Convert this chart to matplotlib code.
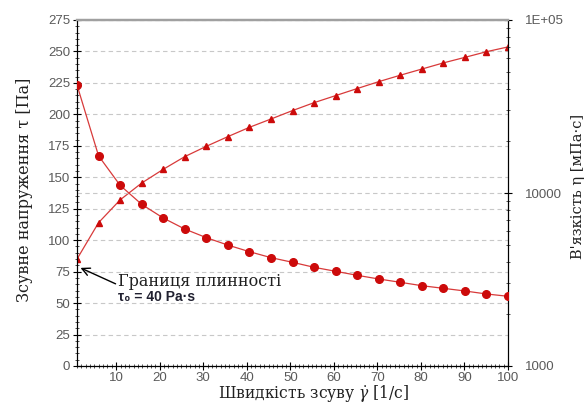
import numpy as np
import matplotlib
matplotlib.use("Agg")
import matplotlib.pyplot as plt
from matplotlib.ticker import MultipleLocator, FixedLocator, FuncFormatter, LogLocator, NullFormatter

# shear rate, 1/s
shear_rate = [1, 5.95, 10.9, 15.85, 20.8, 25.75, 30.7, 35.65, 40.6, 45.55, 50.5,
              55.45, 60.4, 65.35, 70.3, 75.25, 80.2, 85.15, 90.1, 95.05, 100]
# shear stress, Pa (triangles, left axis)
stress = [85, 113.9, 132, 145.4, 156.3, 166.4, 174.6, 182.3, 189.7, 196.3, 203,
          209.3, 214.9, 220.5, 226, 231.1, 236, 240.9, 245.3, 249.8, 253.6]
# viscosity, mPa*s (circles, right log axis)
viscosity = [42100, 16400, 11080, 8600, 7170, 6190, 5520, 5000, 4580, 4230, 3976,
             3720, 3527, 3344, 3184, 3047, 2912, 2812, 2714, 2608, 2529]

x_ticks = [10, 20, 30, 40, 50, 60, 70, 80, 90, 100]
left_ticks = list(range(0, 276, 25))
right_labels = {1000: "1000", 10000: "10000", 100000: "1E+05"}

RED = "#cc0a0a"
LINE = "#d83a3a"
TICK_GRAY = "#5a5a5a"
SERIF = "DejaVu Serif"
SANS = "Liberation Sans"
plt.rcParams["mathtext.fontset"] = "dejavuserif"

fig = plt.figure(figsize=(5.87, 4.05), dpi=100)
ax = fig.add_axes([77 / 587, 39 / 405, 431 / 587, 346 / 405])
ax2 = ax.twinx()

ax.plot(shear_rate, stress, color=LINE, lw=0.9, marker="^", ms=4.5,
        mfc=RED, mec=RED, zorder=3)
ax2.plot(shear_rate, viscosity, color=LINE, lw=0.9, marker="o", ms=5.5,
         mfc=RED, mec=RED, zorder=3)

ax.set_xlim(1, 100)
ax.set_ylim(0, 275)
ax2.set_yscale("log")
ax2.set_ylim(1000, 100000)

ax.xaxis.set_major_locator(FixedLocator(x_ticks))
ax.xaxis.set_minor_locator(MultipleLocator(1))
ax.yaxis.set_major_locator(FixedLocator(left_ticks))
ax.yaxis.set_minor_locator(MultipleLocator(5))
ax2.yaxis.set_major_locator(FixedLocator(list(right_labels)))
ax2.yaxis.set_major_formatter(FuncFormatter(lambda v, p: right_labels.get(int(round(v)), "")))
ax2.yaxis.set_minor_locator(LogLocator(base=10, subs=np.arange(2, 10)))
ax2.yaxis.set_minor_formatter(NullFormatter())

ax.grid(axis="y", which="major", color="#c8c8c8", ls=(0, (4, 3)), lw=0.8)
ax2.grid(axis="y", which="major", color="#c8c8c8", ls=(0, (4, 3)), lw=0.8)
ax.set_axisbelow(True)

for a in (ax, ax2):
    a.tick_params(which="major", direction="inout", length=6, width=0.8,
                  color="black", labelcolor=TICK_GRAY, labelsize=9.5)
    a.tick_params(which="minor", direction="inout", length=3, width=0.6, color="#333333")
    for lbl in a.get_xticklabels() + a.get_yticklabels():
        lbl.set_fontfamily(SANS)
    a.spines["top"].set_color("#a0a0a0")
    a.spines["top"].set_linewidth(1.6)
    a.spines["left"].set_color("black")
    a.spines["right"].set_color("black")
    a.spines["bottom"].set_color("black")

ax.tick_params(axis="x", pad=1)
ax.tick_params(axis="y", pad=2)
ax2.tick_params(axis="y", pad=9)

ax.set_xlabel(r"Швидкість зсуву $\dot{\gamma}$ [1/с]", fontfamily=SERIF,
              fontsize=11.2, color="#202020")
ax.xaxis.set_label_coords(0.548, -0.05)
ax.set_ylabel("Зсувне напруження τ [Па]", fontfamily=SERIF, fontsize=11.5, color="#202020")
ax.yaxis.set_label_coords(-0.102, 0.51)
ax2.set_ylabel("В'язкість η [мПа·с]", fontfamily=SERIF, fontsize=10.5, color="#202020")
ax2.yaxis.set_label_coords(1.147, 0.52)

ax.annotate("Границя плинності", xy=(1.8, 78), xytext=(10.5, 67),
            fontfamily=SERIF, fontsize=11.5, color="#202020", va="center",
            arrowprops=dict(arrowstyle="->", color="black", lw=1.0,
                            shrinkA=0, shrinkB=0, mutation_scale=14,
                            relpos=(0, 0.3)))
ax.text(10.5, 54.5, "τ₀ = 40 Pa·s", fontfamily=SANS, fontsize=10, fontweight="bold",
        color="#202030", va="center")

fig.savefig("out.png", dpi=100)
